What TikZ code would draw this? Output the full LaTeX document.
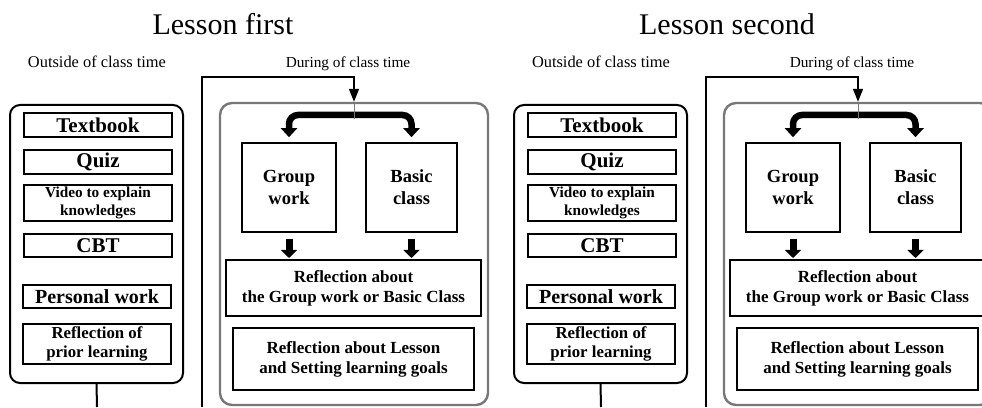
\documentclass[tikz,border=0pt]{standalone}
\usepackage{fontspec}
\setmainfont{Liberation Serif}
\usetikzlibrary{arrows.meta}
\definecolor{during}{RGB}{120,120,120}
\tikzstyle{item}=[draw, line width=1.6pt, minimum width=148pt, inner sep=0pt, align=center]
\tikzstyle{outer}=[draw, line width=2pt, rounded corners=10pt, inner sep=0pt]
\tikzset{bigtext/.style={font=\bfseries\fontsize{21}{24}\selectfont}}
\tikzset{flow/.style={line width=1.6pt, -{Triangle[width=10pt,length=13pt]}}}
\tikzset{bracket/.style={line width=6.5pt, rounded corners=9pt, -{Triangle[width=16pt,length=9pt]}}}
\tikzset{blockarrow/.style={line width=7pt, -{Triangle[width=16pt,length=8pt]}}}
\begin{document}
\begin{tikzpicture}[x=1pt,y=1pt]
  \useasboundingbox (0,0) rectangle (982,407);
  \clip (0,0) rectangle (982,407);
  \foreach \i/\dx/\lesson in {1/0/first,2/504/second}{
    %% Titles
    \draw (\dx+223,372) node[anchor=base, font=\fontsize{30}{36}\selectfont] (L\i) {Lesson \lesson};
    \draw (\dx+97,339) node[anchor=base, font=\fontsize{16.4}{19}\selectfont] (O\i) {Outside of class time};
    \draw (\dx+348,339) node[anchor=base, font=\fontsize{15.3}{18}\selectfont] (D\i) {During of class time};

    %% Outside of class time
    \draw (\dx+96.5,163) node[outer, minimum width=173pt, minimum height=278pt] (B\i) {};
    \draw (\dx+98,282) node[item, bigtext, minimum height=24pt] (T\i) {Textbook};
    \draw (\dx+98,245) node[item, bigtext, minimum height=24pt] (Q\i) {Quiz};
    \draw (\dx+98,204) node[item, minimum height=36pt, font=\bfseries\fontsize{15.3}{18}\selectfont] (V\i) {Video to explain\\knowledges};
    \draw (\dx+98,161.5) node[item, bigtext, minimum height=23pt] (C\i) {CBT};
    \draw (\dx+97,110.5) node[item, minimum height=23pt, font=\bfseries\fontsize{20}{24}\selectfont] (W\i) {Personal work};
    \draw (\dx+97,63) node[item, minimum height=40pt, font=\bfseries\fontsize{16.8}{18.5}\selectfont] (F\i) {Reflection of\\prior learning};
    \coordinate (Z\i) at (\dx+97,0);
    \draw[line width=2pt] (B\i.south) -- (Z\i);

    %% During of class time
    \draw (\dx+354,153) node[outer, draw=during, line width=2.4pt, rounded corners=12pt, minimum width=268pt, minimum height=302pt] (G\i) {};
    \coordinate (S\i) at (\dx+202,0);
    \coordinate (K\i) at (\dx+354,330);
    \draw[flow] (S\i) |- (K\i) -- (G\i.north);

    \draw (\dx+289,219.5) node[item, minimum width=94pt, minimum height=89pt, font=\bfseries\fontsize{18.5}{22}\selectfont] (P\i) {Group\\work};
    \draw (\dx+411.5,219.5) node[item, minimum width=91pt, minimum height=89pt, font=\bfseries\fontsize{18.5}{22}\selectfont] (A\i) {Basic\\class};
    \draw (\dx+353.5,119) node[item, line width=2pt, minimum width=255pt, minimum height=56pt, font=\bfseries\fontsize{17}{20}\selectfont] (R\i) {Reflection about\\the Group work or Basic Class};
    \draw (\dx+353.5,48) node[item, line width=2pt, minimum width=241pt, minimum height=62pt, font=\bfseries\fontsize{17}{20}\selectfont] (E\i) {Reflection about Lesson\\and Setting learning goals};

    \coordinate (M\i) at (\dx+354,292);
    \draw[bracket, shorten >=5pt] (M\i) -| (P\i.north);
    \draw[bracket, shorten >=5pt] (M\i) -| (A\i.north);
    \draw[during, line width=0.8pt] (G\i.north) -- ([yshift=-4pt]M\i);

    \draw[blockarrow, shorten <=6pt, shorten >=1pt] (P\i.south) -- (P\i.south |- R\i.north);
    \draw[blockarrow, shorten <=6pt, shorten >=1pt] (A\i.south) -- (A\i.south |- R\i.north);
  }
\end{tikzpicture}
\end{document}
